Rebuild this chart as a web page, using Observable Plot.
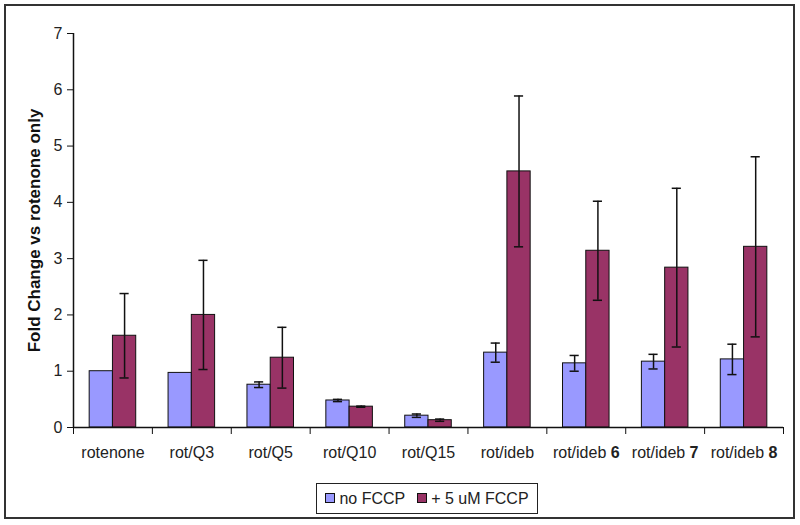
<!DOCTYPE html>
<html><head><meta charset="utf-8">
<script src="https://cdn.jsdelivr.net/npm/d3@7"></script>
<script src="https://cdn.jsdelivr.net/npm/@observablehq/plot@0.6"></script>
<style>
body{margin:0;background:#fff;font-family:Arial,"Liberation Sans",sans-serif;}
#frame{position:absolute;left:4px;top:4px;width:787px;height:511px;border:2px solid #333;}
#chart{position:absolute;left:0;top:0;}
#legend{position:absolute;left:316px;top:483px;width:220px;height:29px;border:1.5px solid #222;display:flex;align-items:center;justify-content:center;gap:12px;font-size:16px;color:#222;background:#fff;}
.sw{display:inline-block;width:8px;height:8px;border:1px solid #111;margin-right:4px;vertical-align:middle;position:relative;top:-1px;}
</style></head>
<body>
<div id="frame"></div>
<div id="chart"></div>
<div id="legend"></div>
<script>
const categories = ["rotenone","rot/Q3","rot/Q5","rot/Q10","rot/Q15","rot/ideb","rot/ideb 6","rot/ideb 7","rot/ideb 8"];
const seriesNames = ["no FCCP","+ 5 uM FCCP"];
const seriesColors = ["#9999FF","#993366"];
const noFCCP    = [1.00,0.97,0.76,0.48,0.21,1.33,1.14,1.17,1.21];
const noFCCPErr = [0.00,0.00,0.05,0.02,0.03,0.17,0.14,0.13,0.27];
const fccp      = [1.63,2.00,1.24,0.37,0.13,4.55,3.14,2.84,3.21];
const fccpErr   = [0.75,0.97,0.54,0.01,0.02,1.34,0.88,1.41,1.60];
const yTicks = [0,1,2,3,4,5,6,7];
const yLabel = "Fold Change vs rotenone only";

const rows = [];
categories.forEach((c, i) => {
  rows.push({i, s: 0, v: noFCCP[i], e: noFCCPErr[i]});
  rows.push({i, s: 1, v: fccp[i], e: fccpErr[i]});
});
const bw = 0.295;
const x1 = d => d.i + 0.5 + (d.s === 0 ? -bw : 0);
const x2 = d => d.i + 0.5 + (d.s === 0 ? 0 : bw);
const xc = d => d.i + 0.5 + (d.s === 0 ? -bw/2 : bw/2);
const cap = 0.058;
const withErr = rows.filter(d => d.e > 0);

const chart = Plot.plot({
  width: 800, height: 470,
  marginLeft: 73, marginRight: 17, marginTop: 33, marginBottom: 43,
  style: {fontFamily: "Arial, 'Liberation Sans', sans-serif", fontSize: "16px", color: "#222", background: "transparent"},
  x: {domain: [0, categories.length], axis: null},
  y: {domain: [0, 7], axis: null},
  marks: [
    Plot.rect(rows, {x1, x2, y1: 0, y2: "v", fill: d => seriesColors[d.s], stroke: "#111", strokeWidth: 1}),
    Plot.ruleX(withErr, {x: xc, y1: d => d.v - d.e, y2: d => d.v + d.e, stroke: "#111", strokeWidth: 1.5}),
    Plot.ruleY(withErr, {y: d => d.v + d.e, x1: d => xc(d) - cap, x2: d => xc(d) + cap, stroke: "#111", strokeWidth: 1.5}),
    Plot.ruleY(withErr, {y: d => d.v - d.e, x1: d => xc(d) - cap, x2: d => xc(d) + cap, stroke: "#111", strokeWidth: 1.5}),
    Plot.ruleX([0], {stroke: "#111", strokeWidth: 1.5}),
    Plot.ruleY([0], {stroke: "#111", strokeWidth: 1.5}),
    Plot.axisY({ticks: yTicks, tickSize: 6, tickPadding: 5, label: null, tickFormat: d => String(d), stroke: "#111"}),
    Plot.axisX({ticks: d3.range(0, categories.length + 1), tickSize: 7, tickFormat: () => "", label: null, stroke: "#111"}),
    Plot.axisX({ticks: categories.map((_, i) => i + 0.5), tickSize: 0, tickPadding: 19, label: null, tickFormat: v => categories[Math.floor(v)]}),
    Plot.text([yLabel], {text: d => d, frameAnchor: "left", textAnchor: "middle", lineAnchor: "middle", rotate: -90, dx: -39, fontWeight: "bold", fontSize: 17, fill: "#111"})
  ]
});
document.getElementById("chart").appendChild(chart);

// bold trailing compound number in labels like "rot/ideb 6"
d3.select(chart).selectAll("text").each(function() {
  const t = this.textContent;
  const m = /^(rot\/ideb )(\d)$/.exec(t);
  if (m) {
    const sel = d3.select(this);
    sel.text(null);
    sel.append("tspan").text(m[1]);
    sel.append("tspan").attr("font-weight", "bold").text(m[2]);
  }
});

const legend = d3.select("#legend");
seriesNames.forEach((n, k) => {
  const item = legend.append("span");
  item.append("span").attr("class", "sw").style("background", seriesColors[k]);
  item.append("span").text(n);
});
</script>
</body></html>
